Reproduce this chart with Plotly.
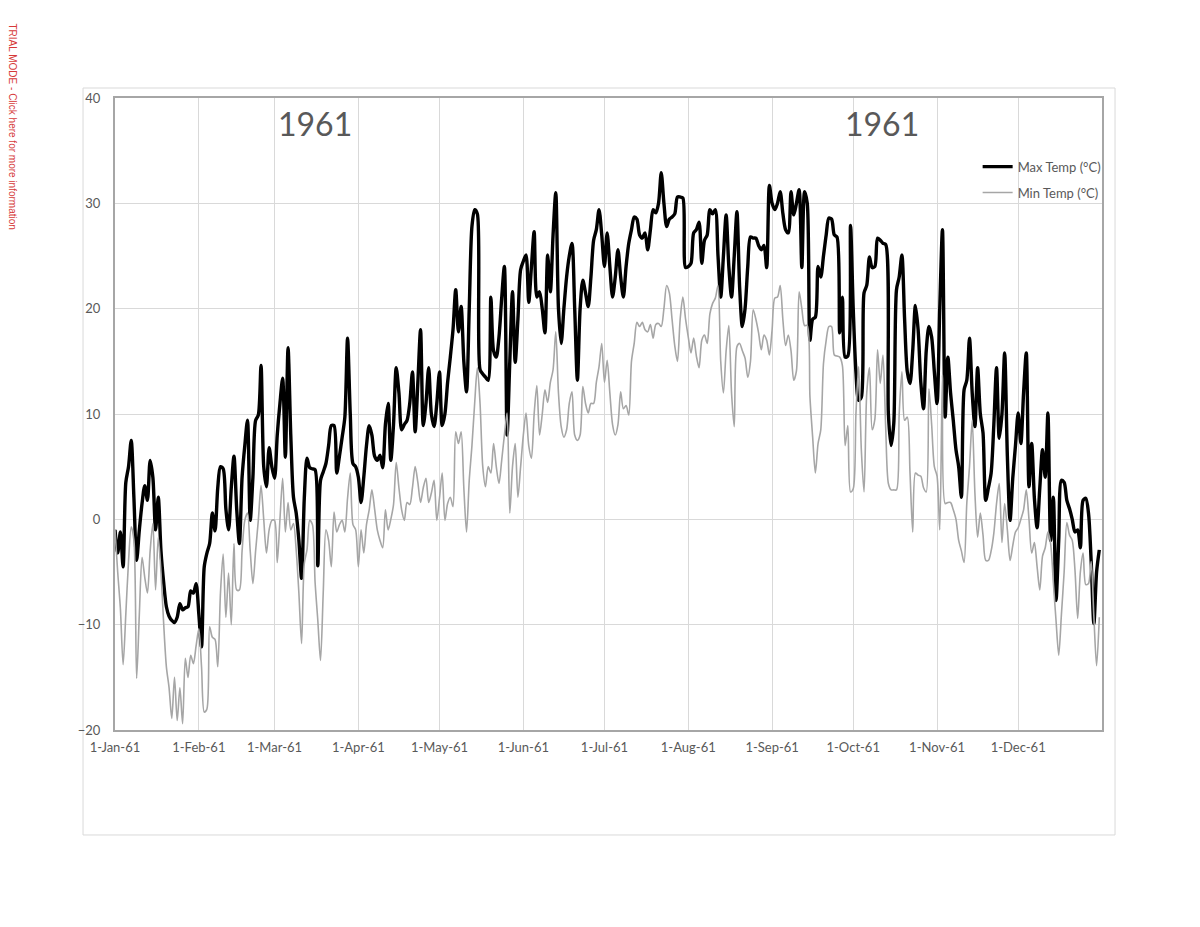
import pandas as pd
import plotly.graph_objects as go

# daily readings for 1961 (deg C)
max_jan = [-1.0, -3.2, -1.2, -4.5, 3.5, 5.0, 7.5, 2.0, -3.9, -1.0, 1.5, 3.2, 1.8, 5.6, 4.0, -1.0,
           2.1, -3.0, -6.0, -8.3, -9.2, -9.6, -9.8, -9.3, -8.0, -8.6, -8.4, -8.3, -6.8, -7.0, -6.1]
max_feb = [-9.0, -12.1, -4.5, -3.2, -2.3, 0.6, -1.1, 3.0, 5.0, 4.8, 1.0, -1.0, 3.0, 6.0, 1.0, -2.3,
           4.0, 7.0, 9.4, -0.1, 4.0, 9.4, 9.9, 14.6, 5.0, 3.1, 6.8, 5.0]
max_mar = [3.9, 8.0, 11.0, 13.4, 5.9, 16.3, 8.0, 2.1, 0.6, -2.0, -5.6, 2.0, 5.8, 4.9, 4.8, 4.7,
           -4.4, 3.7, 4.5, 5.3, 7.0, 8.9, 8.9, 4.4, 6.0, 7.8, 9.7, 17.2, 10.0, 5.3, 5.0]
max_apr = [4.0, 1.6, 4.0, 7.0, 8.9, 8.0, 6.0, 5.6, 6.1, 4.9, 9.0, 11.0, 5.6, 9.0, 14.4, 12.0,
           8.5, 9.0, 9.4, 11.0, 14.0, 8.3, 13.0, 18.0, 8.9, 11.0, 14.4, 10.0, 8.8, 11.0]
max_may = [14.0, 8.9, 10.0, 13.0, 15.4, 18.0, 21.8, 17.8, 20.2, 15.0, 12.1, 20.0, 27.8, 29.4, 29.0, 14.2,
           13.8, 13.5, 13.2, 21.1, 16.0, 15.4, 17.3, 21.0, 24.0, 8.0, 15.0, 21.6, 14.9, 19.0, 23.7]
max_jun = [24.5, 25.1, 20.6, 24.0, 27.3, 21.1, 21.6, 20.0, 17.7, 25.1, 21.6, 27.0, 31.0, 20.0, 16.7,
           20.0, 23.0, 25.0, 26.2, 20.0, 13.2, 20.0, 22.7, 21.5, 20.2, 23.0, 26.5, 27.5, 29.4, 27.0]
max_jul = [24.0, 27.2, 24.0, 21.1, 23.0, 25.6, 23.0, 21.1, 24.0, 26.2, 27.5, 28.7, 28.5, 27.0, 26.7, 27.2,
           25.6, 27.5, 29.4, 29.1, 30.0, 32.9, 30.0, 27.8, 28.5, 28.7, 29.0, 30.6, 30.6, 30.5, 23.9]
max_aug = [24.0, 24.3, 27.2, 27.5, 28.2, 24.3, 26.5, 27.0, 29.4, 29.0, 29.4, 25.0, 21.1, 25.0, 28.9, 24.0,
           21.1, 25.0, 29.2, 22.0, 18.3, 20.0, 24.0, 26.8, 26.7, 26.7, 26.0, 25.6, 26.0, 23.9, 31.7]
max_sep = [30.0, 29.4, 30.0, 31.1, 29.0, 27.5, 27.2, 31.1, 28.9, 30.0, 31.3, 23.9, 31.1, 30.0, 17.0,
           19.0, 19.2, 24.0, 23.0, 25.0, 27.0, 28.6, 28.5, 27.0, 26.8, 17.7, 21.1, 15.4, 15.5, 27.9]
max_oct = [20.0, 14.0, 11.3, 11.6, 21.5, 22.2, 24.9, 23.9, 24.0, 26.7, 26.5, 26.2, 26.1, 10.0, 7.0, 9.1,
           21.8, 23.0, 25.1, 19.0, 14.0, 12.9, 16.0, 20.3, 18.0, 13.0, 10.5, 16.0, 18.3, 17.3, 14.0]
max_nov = [11.0, 20.0, 27.5, 9.7, 15.4, 12.0, 9.4, 6.6, 5.0, 2.1, 12.3, 13.2, 17.2, 12.0, 8.8,
           14.4, 10.0, 8.2, 1.8, 3.0, 4.4, 9.0, 14.4, 7.7, 10.0, 15.8, 6.0, -0.1, 3.9, 7.0]
max_dec = [10.1, 7.2, 12.0, 15.8, 3.1, 7.2, 2.0, -0.8, 3.0, 6.6, 4.0, 10.1, -2.0, 2.1, -7.7, -2.0,
           3.7, 3.5, 1.8, 1.0, 0.0, -1.2, -1.0, -2.7, 1.8, 2.0, 0.6, -4.0, -9.9, -5.0, -2.9]

min_jan = [-1.0, -5.0, -8.5, -13.8, -9.0, -4.0, -0.7, -2.0, -15.1, -9.0, -3.6, -5.5, -7.0, -3.0, -0.4, -6.7,
           -1.7, -5.0, -9.9, -14.0, -16.0, -18.9, -15.0, -19.1, -16.0, -19.4, -13.2, -15.0, -12.9, -13.7, -12.0]
min_feb = [-10.4, -14.0, -18.3, -18.0, -10.2, -11.2, -11.4, -14.0, -7.0, -3.3, -9.3, -5.1, -10.0, -2.3,
           -6.7, -6.7, -3.0, -0.1, 0.6, -3.0, -6.1, -3.0, -0.1, 3.2, 0.0, -3.2, -1.0, -0.1]
min_mar = [-0.1, -4.1, 0.0, 3.9, -1.2, 1.6, -1.0, -0.4, -2.9, -7.0, -11.8, -4.2, -2.9, -0.1, -0.5, -6.0,
           -9.6, -13.4, -7.0, -1.0, -2.0, -4.5, 0.7, -1.2, -0.5, -0.1, -1.2, 2.0, 4.4, -0.5, -1.0]
min_apr = [-4.5, -1.0, -3.2, -0.5, 0.9, 2.8, 1.0, -1.0, -2.0, -2.7, 0.9, -1.0, 0.0, 1.4, 5.4, 3.0,
           0.9, -0.1, 1.6, 1.4, 3.0, 5.0, 3.5, 1.6, 3.0, 3.9, 1.6, 2.5, 3.7, -0.1]
min_may = [2.0, 4.4, -0.1, 1.5, 2.1, 1.2, 8.3, 7.2, 8.3, 3.0, -1.2, 3.7, 7.0, 11.0, 14.4, 11.0,
           5.0, 3.1, 5.0, 4.4, 7.2, 5.0, 3.4, 5.6, 8.0, 10.1, 0.6, 5.0, 7.2, 2.1, 5.0]
min_jun = [8.0, 10.1, 7.0, 5.8, 10.0, 12.7, 8.0, 10.0, 12.3, 11.1, 13.0, 14.2, 17.8, 12.0, 8.8,
           7.8, 8.5, 11.0, 12.1, 8.0, 7.5, 8.0, 12.6, 11.0, 10.1, 11.0, 11.0, 13.0, 14.5, 16.7]
min_jul = [13.0, 15.1, 12.0, 9.0, 8.0, 9.0, 12.1, 10.5, 10.8, 9.9, 15.0, 16.7, 18.7, 18.3, 18.7, 18.0,
           17.8, 18.5, 17.2, 18.5, 18.6, 18.3, 20.0, 22.2, 21.5, 19.0, 16.5, 15.0, 19.0, 21.1, 19.0]
min_aug = [17.3, 15.8, 17.2, 15.5, 14.4, 17.0, 17.5, 16.7, 19.5, 20.5, 21.0, 22.2, 15.0, 12.0, 16.0, 18.4,
           12.0, 8.8, 16.4, 16.7, 16.0, 15.3, 13.5, 15.0, 19.9, 19.0, 17.7, 16.1, 17.5, 17.0, 15.6]
min_sep = [18.0, 21.0, 21.1, 22.2, 18.9, 16.5, 17.5, 16.0, 13.2, 14.1, 21.6, 20.0, 18.4, 18.4, 11.6,
           7.8, 4.4, 7.2, 8.5, 14.8, 17.0, 18.3, 18.3, 15.6, 15.5, 15.4, 14.6, 7.0, 8.9, 2.6]
min_oct = [2.9, 10.0, 14.5, 6.6, 2.6, 12.0, 14.4, 8.5, 9.5, 16.1, 12.9, 15.6, 8.8, 3.4, 2.8, 2.8,
           2.8, 10.0, 14.0, 9.4, 9.7, 4.4, -1.2, 4.4, 4.2, 4.1, 3.0, 2.6, 12.4, 9.0, 5.0]
min_nov = [4.1, -1.0, 13.7, 1.5, 1.6, 1.6, 0.9, 0.0, -2.0, -3.0, -4.1, 1.5, 5.0, 9.4, 2.5,
           -1.7, 0.6, -1.5, -3.9, -3.9, -3.0, -1.3, 1.5, 3.4, -2.2, 1.5, -1.0, -3.9, -2.5, -1.2]
min_dec = [-0.8, 0.0, 0.9, 2.8, 0.0, -3.2, -2.2, -4.5, -6.7, -3.5, -2.7, -1.2, -2.3, -6.0, -9.6, -12.9,
           -9.0, -5.0, -0.3, -1.5, -2.0, -4.8, -9.4, -5.0, -3.2, -6.2, -6.1, -4.0, -9.3, -13.9, -9.3]

max_temp = (max_jan + max_feb + max_mar + max_apr + max_may + max_jun +
            max_jul + max_aug + max_sep + max_oct + max_nov + max_dec)
min_temp = (min_jan + min_feb + min_mar + min_apr + min_may + min_jun +
            min_jul + min_aug + min_sep + min_oct + min_nov + min_dec)

dates = pd.date_range("1961-01-01", "1961-12-31", freq="D")

month_ticks = pd.date_range("1961-01-01", "1961-12-01", freq="MS")
month_labels = ["1-Jan-61", "1-Feb-61", "1-Mar-61", "1-Apr-61", "1-May-61", "1-Jun-61",
                "1-Jul-61", "1-Aug-61", "1-Sep-61", "1-Oct-61", "1-Nov-61", "1-Dec-61"]
y_ticks = [-20, -10, 0, 10, 20, 30, 40]

FONT = "Lato, Liberation Sans, sans-serif"
TXT = "#595959"

fig = go.Figure()
fig.add_trace(go.Scatter(
    x=dates, y=max_temp, mode="lines", name="Max Temp (°C)",
    legendgroup="max",
    line=dict(color="black", width=3.4, shape="spline", smoothing=0.8),
))
fig.add_trace(go.Scatter(
    x=dates, y=min_temp, mode="lines", name="Min Temp (°C)",
    legendgroup="min",
    line=dict(color="#a6a6a6", width=1.6, shape="spline", smoothing=0.8),
))

# outer chart frame
fig.add_shape(type="rect", xref="paper", yref="paper",
              x0=-0.0324, x1=1.0132, y0=-0.1661, y1=1.0158,
              line=dict(color="#d9d9d9", width=1), layer="below")

for xpos in [0.2026, 0.777]:
    fig.add_annotation(text="1961", xref="paper", yref="paper", x=xpos, y=0.9604,
                       xanchor="center", yanchor="middle",
                       showarrow=False, font=dict(family=FONT, size=32, color=TXT))

fig.add_annotation(text="TRIAL MODE - Click here for more information",
                   xref="paper", yref="paper", x=-0.1034, y=0.955, textangle=90,
                   xanchor="center", yanchor="middle",
                   showarrow=False, font=dict(family="Liberation Sans, Arial", size=10, color="#d63a3a"))

fig.update_layout(
    width=1200, height=927,
    margin=dict(l=107, r=106, t=90, b=205),
    paper_bgcolor="white", plot_bgcolor="white",
    font=dict(family=FONT, size=13, color=TXT),
    showlegend=True,
    legend=dict(x=0.874, y=0.915, xanchor="left", yanchor="top",
                bgcolor="rgba(0,0,0,0)", traceorder="grouped", tracegroupgap=6,
                font=dict(family=FONT, size=13, color=TXT)),
    xaxis=dict(
        range=["1961-01-01", "1962-01-01"],
        tickmode="array", tickvals=month_ticks, ticktext=month_labels,
        showgrid=True, gridcolor="#d9d9d9", gridwidth=1,
        showline=True, mirror=True, linecolor="#a6a6a6", linewidth=2,
        ticks="", ticklabelstandoff=4,
        tickfont=dict(family=FONT, size=13, color=TXT),
    ),
    yaxis=dict(
        range=[-20, 40], tickmode="array", tickvals=y_ticks,
        showgrid=True, gridcolor="#d9d9d9", gridwidth=1, zeroline=False,
        showline=True, mirror=True, linecolor="#a6a6a6", linewidth=2,
        ticks="", ticklabelstandoff=10,
        tickfont=dict(family=FONT, size=13, color=TXT),
    ),
)

fig.write_html("out.html")
